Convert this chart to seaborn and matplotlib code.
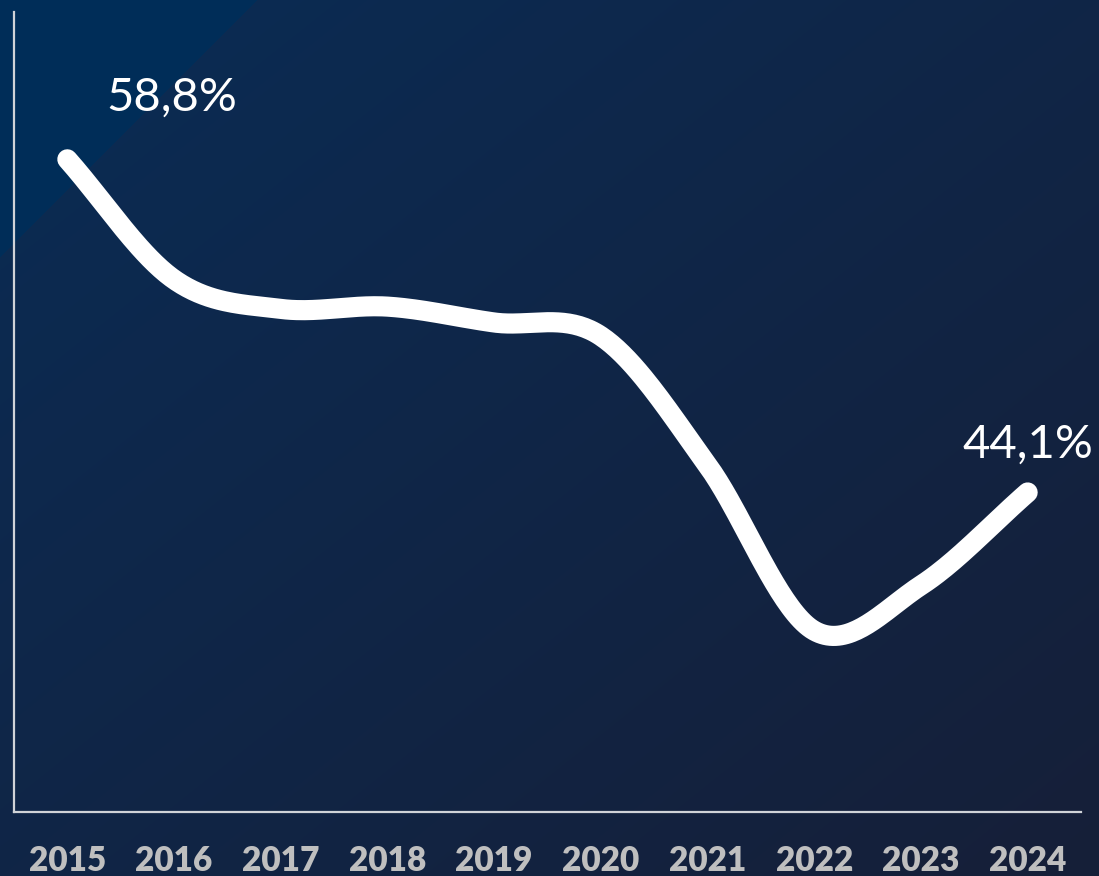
import numpy as np
import pandas as pd
import matplotlib
matplotlib.use("Agg")
import matplotlib.pyplot as plt
import seaborn as sns

years = ["2015", "2016", "2017", "2018", "2019", "2020", "2021", "2022", "2023", "2024"]
values = [58.8, 53.5, 52.2, 52.3, 51.6, 51.0, 45.3, 38.0, 40.0, 44.1]
first_label = "58,8%"
last_label = "44,1%"

sns.set_theme(style="white")
plt.rcParams['font.family'] = ['Lato', 'DejaVu Sans']

W, H = 1099, 876
fig = plt.figure(figsize=(W / 100, H / 100), dpi=100)

# background gradient
bg = fig.add_axes([0, 0, 1, 1], zorder=-10)
yy, xx = np.mgrid[0:H, 0:W]
t = (xx / W + yy / H) / 2.0
c0 = np.array([0x0A, 0x2C, 0x55]) / 255.0
c1 = np.array([0x16, 0x1F, 0x38]) / 255.0
img = c0[None, None, :] * (1 - t[..., None]) + c1[None, None, :] * t[..., None]
tri = (xx + yy) < 257
img[tri] = np.array([0x00, 0x2D, 0x58]) / 255.0
bg.imshow(img, aspect='auto', extent=[0, 1, 0, 1], interpolation='bilinear')
bg.axis('off')

ax = fig.add_axes([14 / W, 64 / H, 1067 / W, 800 / H])
ax.set_facecolor('none')

# Catmull-Rom smoothing of the data (drawing only)
x = np.arange(len(values), dtype=float)
y = np.array(values, dtype=float)
px = np.concatenate([[2 * x[0] - x[1]], x, [2 * x[-1] - x[-2]]])
py = np.concatenate([[2 * y[0] - y[1]], y, [2 * y[-1] - y[-2]]])
sx, sy = [], []
for i in range(1, len(px) - 2):
    p0, p1, p2, p3 = (px[i - 1], py[i - 1]), (px[i], py[i]), (px[i + 1], py[i + 1]), (px[i + 2], py[i + 2])
    for tt in np.linspace(0, 1, 40, endpoint=(i == len(px) - 3)):
        t2, t3 = tt * tt, tt * tt * tt
        for arr, k in ((sx, 0), (sy, 1)):
            arr.append(0.5 * ((2 * p1[k]) + (-p0[k] + p2[k]) * tt +
                              (2 * p0[k] - 5 * p1[k] + 4 * p2[k] - p3[k]) * t2 +
                              (-p0[k] + 3 * p1[k] - 3 * p2[k] + p3[k]) * t3))
df = pd.DataFrame({"x": sx, "y": sy})
sns.lineplot(data=df, x="x", y="y", sort=False, ax=ax, color="white",
             linewidth=14.5, solid_capstyle='round', solid_joinstyle='round')

ax.set_xlim(-0.5, len(values) - 0.5)
ax.set_ylim(30, 65.3)
ax.set_xticks(x)
ax.set_xticklabels(years)
ax.set_yticks([])
ax.set_xlabel("")
ax.set_ylabel("")
ax.tick_params(axis='x', length=0, pad=24, labelsize=24, labelcolor="#BFBFBF")
for lab in ax.get_xticklabels():
    lab.set_fontweight('heavy')
for s in ["top", "right"]:
    ax.spines[s].set_visible(False)
for s in ["left", "bottom"]:
    ax.spines[s].set_color("#D0D3D8")
    ax.spines[s].set_linewidth(1.6)
ax.grid(False)

ax.annotate(first_label, (x[0], y[0]), xytext=(104 * 0.72, 62 * 0.72),
            textcoords='offset points', ha='center', va='center',
            color='white', fontsize=34)
ax.annotate(last_label, (x[-1], y[-1]), xytext=(0, 48 * 0.72),
            textcoords='offset points', ha='center', va='center',
            color='white', fontsize=34)

fig.savefig("out.png", dpi=100)
